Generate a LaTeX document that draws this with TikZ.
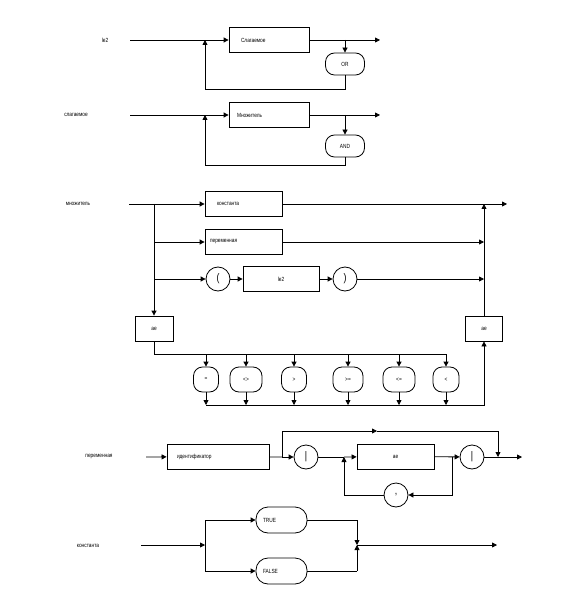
\documentclass[tikz,border=0pt]{standalone}
\usepackage{fontspec}
\setmainfont[FakeStretch=0.8]{Liberation Sans}
\usepackage{tikz}
\usetikzlibrary{arrows.meta}

\tikzset{
    every node/.style={font=\fontsize{6}{7}\selectfont},
    box/.style={draw, rectangle, minimum height=25pt, align=left},
    abox/.style={draw, rectangle, minimum height=25pt, minimum width=#1, align=center},
    oval/.style={draw, rectangle, rounded corners=9pt, minimum height=22pt, minimum width=39pt, inner sep=0pt},
    relop/.style={draw, rectangle, rounded corners=9pt, minimum height=25pt, minimum width=#1, inner sep=0pt},
    ring/.style={draw, circle, minimum size=24pt, inner sep=0pt, font=\fontsize{11}{11}\selectfont},
    capsule/.style={draw, rectangle, rounded corners=12pt, minimum height=26pt, inner xsep=7pt, text width=37pt, align=left}
}

\begin{document}
\begin{tikzpicture}[x=1pt, y=-1pt, line width=0.8pt, >={Triangle[length=5pt,width=5pt]}]
    \useasboundingbox (0,0) rectangle (573,609);
        %le2
    \node (lbl1) at (105,40) {le2};
    \coordinate (s1) at (130,40);
    \coordinate (j1) at (205,40);
    \coordinate (d1) at (345,40);
    \coordinate (o1) at (380,40);
    \coordinate (b1) at (205,89);
    \node[box, text width=56pt, inner xsep=12pt] (slag) at (269,40) {Слагаемое};
    \node[oval] (or) at (345,64) {OR};
    \draw (s1) -- (j1);
    \draw[->] (j1) -- (slag);
    \draw[->] (slag) -- (o1);
    \draw[->] (d1) -- (or);
    \draw[->] (or) |- (b1) -- (j1);
        %slagaemoe
    \node (lbl2) at (76,115) {слагаемое};
    \coordinate (s2) at (130,115);
    \coordinate (j2) at (205,115);
    \coordinate (d2) at (345,115);
    \coordinate (o2) at (380,115);
    \coordinate (b2) at (205,165);
    \node[box, text width=64pt, inner xsep=8pt] (mnoz) at (269,115) {Множитель};
    \node[oval] (and) at (345,146) {AND};
    \draw (s2) -- (j2);
    \draw[->] (j2) -- (mnoz);
    \draw[->] (mnoz) -- (o2);
    \draw[->] (d2) -- (and);
    \draw[->] (and) |- (b2) -- (j2);
        %mnozhitel
    \node (lbl3) at (78,204) {множитель};
    \coordinate (s3) at (129,204);
    \coordinate (v1) at (154,204);
    \coordinate (v2) at (154,242);
    \coordinate (v3) at (154,279);
    \coordinate (e1) at (484,204);
    \coordinate (e2) at (484,242);
    \coordinate (e3) at (484,279);
    \coordinate (o3) at (507,204);
    \node[box, text width=53pt, inner xsep=12pt] (kon) at (243.5,204) {константа};
    \node[box, text width=67pt, inner xsep=5pt] (per) at (243.5,242) {переменная};
    \node[ring] (lpar) at (218,279) {(};
    \node[abox=76pt] (le) at (281,279) {le2};
    \node[ring] (rpar) at (345,279) {)};
    \node[abox=38pt] (ael) at (154,328.5) {ae};
    \node[abox=37pt] (aer) at (484,328.5) {ae};
    \draw (s3) -- (v1);
    \draw[->] (v1) -- (kon);
    \draw[->] (v1) -- (ael);
    \draw[->] (v2) -- (per);
    \draw[->] (v3) -- (lpar);
    \draw[->] (lpar) -- (le);
    \draw[->] (le) -- (rpar);
    \draw[->] (rpar) -- (e3);
    \draw[->] (per) -- (e2);
    \draw[->] (kon) -- (o3);
    \draw[->] (aer) -- (e1);
        %relations
    \coordinate (tr) at (446,354);
    \draw (ael) |- (tr);
    \foreach \x/\w/\t [count=\i] in {206/25/=, 246/32/{<>}, 294/25/>, 348/30/{>=}, 399/32/{<=}, 446/26/<}
    {
        \node[relop=\w pt] (op\i) at (\x,379.5) {\t};
        \coordinate (t\i) at (\x,354);
        \coordinate (b\i) at (\x,405);
        \draw[->] (t\i) -- (op\i);
        \draw[->] (op\i) -- (b\i);
    }
    \draw[->] (b1) -| (aer);
        %peremennaya
    \node (lbl4) at (99,457) {переменная};
    \coordinate (s4) at (146,457);
    \coordinate (j4) at (282,457);
    \coordinate (u1) at (282,431);
    \coordinate (um) at (377,431);
    \coordinate (u2) at (498,431);
    \coordinate (j5) at (498,457);
    \coordinate (o4) at (522,457);
    \coordinate (j6) at (344,457);
    \coordinate (j7) at (452,457);
    \node[box, text width=82pt, inner xsep=10pt] (ident) at (218,456.5) {идентификатор};
    \node[ring] (bar1) at (306,457) {|};
    \node[abox=77pt] (ae2) at (395.5,456.5) {ae};
    \node[ring] (bar2) at (472,457) {|};
    \node[ring] (com) at (396,495) {,};
    \draw[->] (s4) -- (ident);
    \draw (ident) -- (j4);
    \draw[->] (j4) -- (bar1);
    \draw (bar1) -- (j6);
    \draw[->] (j6) -- (ae2);
    \draw[->] (ae2) -- (bar2);
    \draw[->] (bar2) -- (o4);
    \draw[->] (j4) -- (u1) -- (um);
    \draw (um) -- (u2);
    \draw[->] (u2) -- (j5);
    \draw[->] (j7) |- (com);
    \draw[->] (com) -| (j6);
        %konstanta
    \node (lbl5) at (88,546) {константа};
    \coordinate (s5) at (141,545);
    \coordinate (j8) at (205,545);
    \coordinate (t0) at (205,520);
    \coordinate (f0) at (205,571);
    \coordinate (m1) at (357,520);
    \coordinate (m2) at (357,571);
    \coordinate (m0) at (357,545);
    \coordinate (o5) at (497,545);
    \node[capsule] (tru) at (281.5,520) {TRUE};
    \node[capsule] (fal) at (281.5,571) {FALSE};
    \draw[->] (s5) -- (j8);
    \draw (t0) -- (f0);
    \draw[->] (t0) -- (tru);
    \draw[->] (f0) -- (fal);
    \draw (tru) -- (m1);
    \draw[->] (m1) -- (m0);
    \draw (fal) -- (m2);
    \draw[->] (m2) -- (m0);
    \draw[->] (m0) -- (o5);
\end{tikzpicture}
\end{document}
